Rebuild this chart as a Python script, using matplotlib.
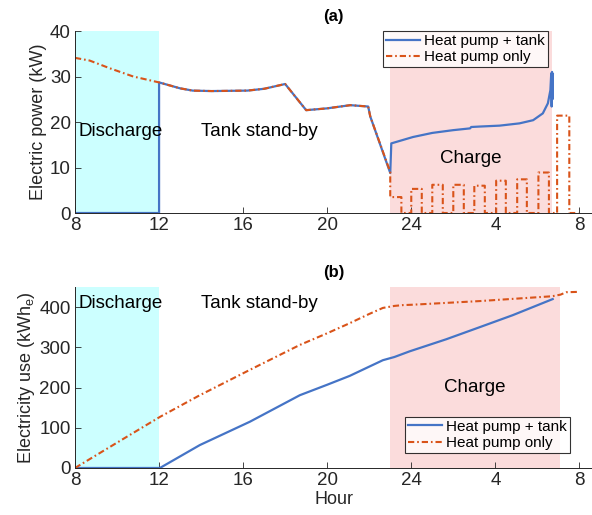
import numpy as np
import matplotlib
matplotlib.use('Agg')
import matplotlib.pyplot as plt

plt.rcParams['font.family'] = ['Liberation Sans', 'DejaVu Sans']

# --- data ------------------------------------------------------------------
# (a) electric power, kW
hp_only_t = [8, 8.7, 9.66, 10.77, 12, 13, 13.6, 14.5, 16.2, 17, 18, 19, 20, 21.1, 21.95, 22.05, 23.0,
             23.0, 23.53, 23.53, 24.0, 24.0, 24.5, 24.5, 25.0, 25.0, 25.5, 25.5, 26.0, 26.0,
             26.5, 26.5, 27.0, 27.0, 27.5, 27.5, 28.04, 28.04, 28.5, 28.5, 29.04, 29.04,
             29.5, 29.5, 30.05, 30.05, 30.55, 30.55, 30.94, 30.94, 31.52, 31.52, 31.95]
hp_only_p = [34.1, 33.5, 31.8, 30.0, 28.7, 27.4, 26.9, 26.8, 26.9, 27.3, 28.35, 22.6, 23.0, 23.7, 23.4, 21.2, 9.0,
             3.5, 3.5, 0, 0, 5.3, 5.3, 0, 0, 6.2, 6.2, 0, 0, 6.2,
             6.2, 0, 0, 6.0, 6.0, 0, 0, 7.1, 7.1, 0, 0, 7.4,
             7.4, 0, 0, 8.9, 8.9, 0, 0, 21.4, 21.4, 0, 0]

hp_tank_t = [8, 12, 12, 13, 13.6, 14.5, 16.2, 17, 18, 19, 20, 21.1, 21.95, 22.05, 23.0, 23.05,
             24.08, 25.0, 25.98, 26.8, 26.85, 27.25, 28.2, 29.15, 29.8, 30.26, 30.5,
             30.62, 30.66, 30.68, 30.7, 30.72, 30.74]
hp_tank_p = [0, 0, 28.7, 27.4, 26.9, 26.8, 26.9, 27.3, 28.35, 22.6, 23.0, 23.7, 23.4, 21.2, 8.8, 15.3,
             16.7, 17.6, 18.2, 18.6, 18.9, 19.0, 19.2, 19.7, 20.4, 21.9, 24.1,
             27.0, 30.7, 23.4, 31.0, 25.0, 30.5]

# (b) cumulative electricity use, kWh_e
use_only_t = [8, 10, 12.04, 13.94, 16.32, 18.7, 20, 21.07, 22, 22.65, 23.2, 23.6, 24.07, 27.25, 30.7, 31.1, 31.37, 32.0]
use_only_e = [0, 63, 127, 181, 244, 306, 335, 360, 383, 398, 403, 405, 406, 415, 427, 431, 437, 438]

use_tank_t = [8, 12.04, 13.94, 16.32, 18.7, 20, 21.07, 22, 22.65, 23.2, 23.92, 25.66, 27.25, 28.83, 30.73]
use_tank_e = [0, 0, 57, 115, 181, 207, 229, 252, 268, 276, 290, 320, 350, 380, 420]

xticks = [8, 12, 16, 20, 24, 28, 32]
xticklabels = ['8', '12', '16', '20', '24', '4', '8']

blue = '#4574c6'
orange = '#d95319'
cyan = '#ccffff'
pink = '#fbdcdc'
grey = '#262626'
dashdot = (3.0, 1.4, 0.8, 1.4)

fig = plt.figure(figsize=(5.92, 5.15), dpi=100)
ax = fig.add_axes([0.1267, 0.5864, 0.8733, 0.3534])
ax2 = fig.add_axes([0.1267, 0.0913, 0.8733, 0.3514])


def style(a, ymax, yticks):
    a.set_xlim(8, 32.6)
    a.set_ylim(0, ymax)
    a.set_xticks(xticks)
    a.set_xticklabels(xticklabels)
    a.set_yticks(yticks)
    a.tick_params(direction='in', length=4, width=0.6, colors=grey, labelsize=13.5, pad=3)
    for s in ['top', 'right']:
        a.spines[s].set_visible(False)
    for s in ['left', 'bottom']:
        a.spines[s].set_color(grey)
        a.spines[s].set_linewidth(0.7)


def legend(a, anchor):
    leg = a.legend(loc='upper left', bbox_to_anchor=anchor, fontsize=11, frameon=True,
                   fancybox=False, borderpad=0.2, handlelength=2.2, handletextpad=0.3,
                   labelspacing=0.15, borderaxespad=0)
    leg.get_frame().set_edgecolor('black')
    leg.get_frame().set_linewidth(0.8)


# --- (a) ---------------------------------------------------------------------
ax.axvspan(8, 12, color=cyan, lw=0, zorder=0)
ax.axvspan(23, 30.72, color=pink, lw=0, zorder=0)
ax.plot(hp_tank_t, hp_tank_p, '-', color=blue, lw=1.6, label='Heat pump + tank')
ax.plot(hp_only_t, hp_only_p, '-.', dashes=dashdot, color=orange, lw=1.5, label='Heat pump only')
style(ax, 40, [0, 10, 20, 30, 40])
ax.set_ylabel('Electric power (kW)', fontsize=13, color=grey, labelpad=2)
ax.set_title('(a)', fontsize=12, fontweight='bold', pad=7)
ax.text(8.15, 18, 'Discharge', fontsize=13.5, va='center')
ax.text(14, 18, 'Tank stand-by', fontsize=13.5, va='center')
ax.text(26.85, 12, 'Charge', fontsize=13.5, va='center', ha='center')
legend(ax, (0.596, 1.0))

# --- (b) ---------------------------------------------------------------------
ax2.axvspan(8, 12, color=cyan, lw=0, zorder=0)
ax2.axvspan(23, 31.1, color=pink, lw=0, zorder=0)
ax2.plot(use_tank_t, use_tank_e, '-', color=blue, lw=1.6, label='Heat pump + tank')
ax2.plot(use_only_t, use_only_e, '-.', dashes=dashdot, color=orange, lw=1.5, label='Heat pump only')
style(ax2, 450, [0, 100, 200, 300, 400])
ax2.set_ylabel('Electricity use (kWh$_\\mathregular{e}$)', fontsize=13, color=grey, labelpad=2)
ax2.set_xlabel('Hour', fontsize=13, color=grey, labelpad=1)
ax2.set_title('(b)', fontsize=12, fontweight='bold', pad=7)
ax2.text(8.15, 408, 'Discharge', fontsize=13.5, va='center')
ax2.text(14, 408, 'Tank stand-by', fontsize=13.5, va='center')
ax2.text(27.0, 200, 'Charge', fontsize=13.5, va='center', ha='center')
legend(ax2, (0.638, 0.283))

fig.savefig('out.png', dpi=100)
